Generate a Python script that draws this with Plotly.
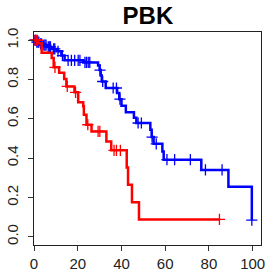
import numpy as np
import plotly.graph_objects as go

# ---- data ----
title_text = "PBK"

# blue group: event step points (time, survival)
blue_t = [0, 1.0, 2.5, 4.0, 6.0, 8.0, 10.5, 12.5, 14.0, 22.5, 29.3, 30.0, 30.5, 31.0, 32.8,
          38.0, 39.0, 40.0, 42.0, 45.7, 46.8, 53.2, 53.8, 54.7, 58.7, 59.3, 76.5, 88.9, 99.6]
blue_s = [1.0, 0.99, 0.982, 0.975, 0.966, 0.956, 0.944, 0.922, 0.898, 0.887, 0.872, 0.848, 0.82,
          0.79, 0.757, 0.732, 0.70, 0.667, 0.633, 0.606, 0.579, 0.544, 0.507, 0.473, 0.434,
          0.392, 0.340, 0.255, 0.085]
blue_cens = [0.4, 0.8, 1.3, 1.8, 2.2, 3.0, 3.4, 4.5, 5.0, 5.5, 6.5, 7.0, 7.5, 9.0, 9.5, 11.0,
             13.0, 15.6, 17.1, 18.6, 20.2, 21.0, 23.3, 24.0, 24.8, 25.5, 30.2, 31.4, 36.2, 37.7,
             39.3, 47.6, 49.1, 54.0, 55.9, 60.8, 64.3, 71.5, 78.4, 86.0, 99.6]

# red group
red_t = [0, 2.0, 3.5, 8.1, 9.0, 11.5, 13.8, 14.8, 18.5, 20.2, 22.5, 22.8, 24.0, 26.3, 33.1,
         35.3, 42.4, 43.0, 44.8, 48.0]
red_s = [1.0, 0.985, 0.937, 0.91, 0.862, 0.834, 0.803, 0.765, 0.735, 0.684, 0.664, 0.621, 0.57,
         0.536, 0.485, 0.44, 0.352, 0.264, 0.176, 0.088]
red_cens = [0.5, 1.2, 1.6, 9.6, 15.2, 19.0, 24.6, 29.3, 30.1, 36.6, 37.7, 39.5, 84.8]

x_ticks = [0, 20, 40, 60, 80, 100]
y_ticks = [0.0, 0.2, 0.4, 0.6, 0.8, 1.0]
y_tick_text = ["0.0", "0.2", "0.4", "0.6", "0.8", "1.0"]


def step_value(ts, ss, x):
    idx = np.searchsorted(np.asarray(ts), x, side="right") - 1
    return float(np.asarray(ss)[idx])


fig = go.Figure()

for ts, ss, cens, col in [(blue_t, blue_s, blue_cens, "#0000FF"),
                          (red_t, red_s, red_cens, "#FF0000")]:
    last_t = max(max(ts), max(cens))
    xs = list(ts) + [last_t]
    ys = list(ss) + [ss[-1]]
    fig.add_trace(go.Scatter(x=xs, y=ys, mode="lines", line=dict(color=col, width=2.5, shape="hv"),
                             hoverinfo="skip", showlegend=False, cliponaxis=False))
    fig.add_trace(go.Scatter(x=cens, y=[step_value(ts, ss, c) for c in cens], mode="markers",
                             marker=dict(symbol="cross-thin", size=8, line=dict(color=col, width=1.3)),
                             hoverinfo="skip", showlegend=False, cliponaxis=False))

font = "Liberation Sans, Arial, Helvetica, sans-serif"
fig.update_layout(
    width=270, height=276,
    margin=dict(l=34, r=9, t=32, b=31, autoexpand=False),
    paper_bgcolor="white", plot_bgcolor="white",
    title=dict(text="<b>%s</b>" % title_text, x=0.548, xanchor="center", y=0.945, yanchor="middle",
               font=dict(family=font, size=24, color="black")),
    xaxis=dict(range=[0, 103.8], tickvals=x_ticks, ticks="outside", ticklen=5, tickcolor="#333",
               showgrid=False, zeroline=False, showline=True, linecolor="#222", linewidth=1,
               mirror=True, automargin=False, tickfont=dict(family=font, size=15, color="#222")),
    yaxis=dict(range=[-0.042, 1.042], tickvals=y_ticks, ticktext=y_tick_text, ticks="outside",
               ticklen=5, tickcolor="#333", tickangle=-90, showgrid=False, zeroline=False,
               showline=True, linecolor="#222", linewidth=1, mirror=True, automargin=False,
               ticklabelstandoff=4,
               tickfont=dict(family=font, size=15, color="#222")),
)

fig.write_html("out.html", config={"displayModeBar": False, "staticPlot": True},
               post_script="document.body.style.margin='0';document.body.style.overflow='hidden';")
